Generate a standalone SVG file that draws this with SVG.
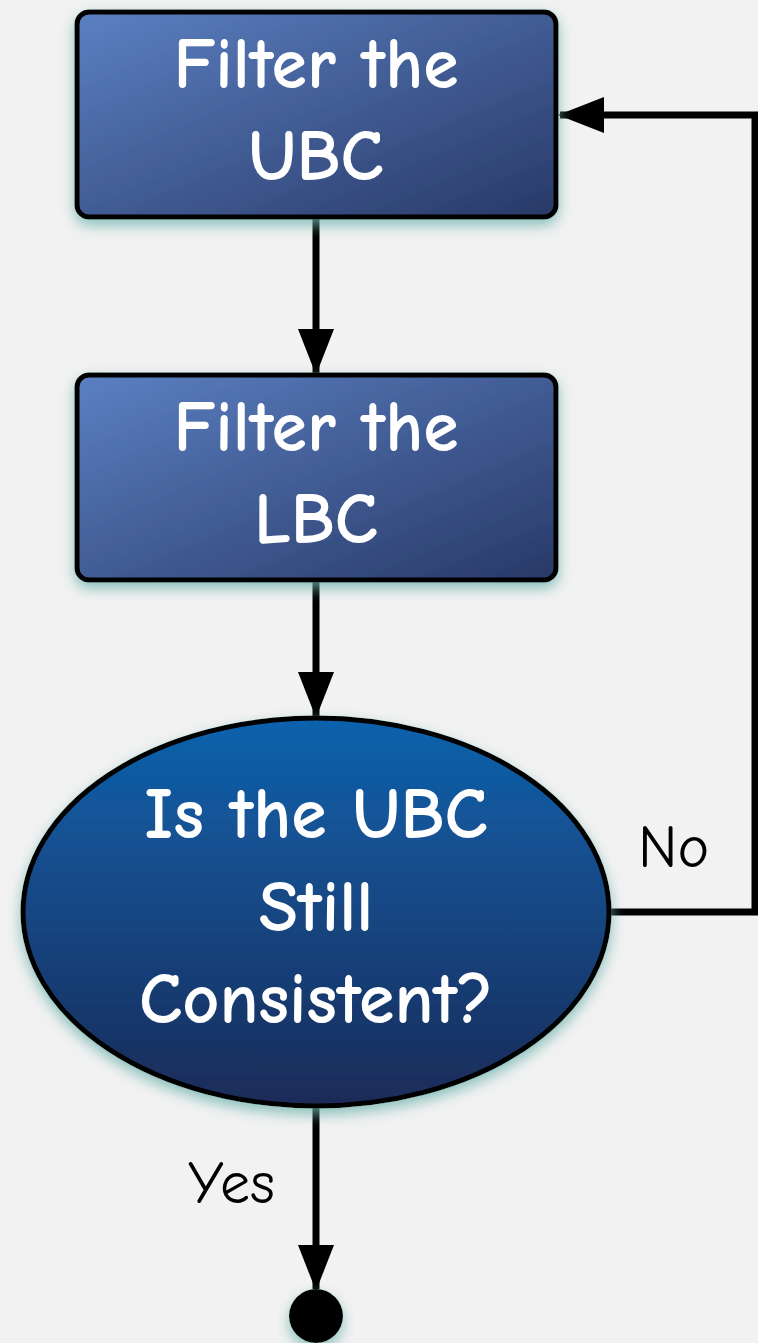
<svg xmlns="http://www.w3.org/2000/svg" width="758" height="1343" viewBox="0 0 758 1343">
<style>
.node-text{font-family:"Comic Neue","Noto Sans","DejaVu Sans",sans-serif;font-size:72px;font-weight:700;fill:#ffffff;text-anchor:middle}
.label{font-family:"Comic Neue","Noto Sans","DejaVu Sans",sans-serif;font-size:60px;fill:#000000}
.edge{fill:none;stroke:#000000;stroke-width:7}
.box{stroke:#000000;stroke-width:5}
</style>
<defs>
<linearGradient id="boxGrad" x1="0" y1="0" x2="1" y2="1">
<stop offset="0" stop-color="#5b80c2"/>
<stop offset="1" stop-color="#283967"/>
</linearGradient>
<linearGradient id="ellGrad" x1="0" y1="0" x2="0" y2="1">
<stop offset="0" stop-color="#0f62ad"/>
<stop offset="1" stop-color="#1b2b58"/>
</linearGradient>
<filter id="glow" x="-20%" y="-20%" width="140%" height="140%">
<feGaussianBlur in="SourceAlpha" stdDeviation="7"/>
<feOffset dx="0" dy="6" result="b"/>
<feFlood flood-color="#6fb3ad" flood-opacity="0.8"/>
<feComposite in2="b" operator="in"/>
<feMerge><feMergeNode/><feMergeNode in="SourceGraphic"/></feMerge>
</filter>
<marker id="arrow" markerUnits="userSpaceOnUse" markerWidth="46" markerHeight="36" refX="44" refY="18" orient="auto">
<path d="M0,0 L46,18 L0,36 Z" fill="#000000"/>
</marker>
</defs>
<rect width="758" height="1343" fill="#f2f2f2"/>
<g id="connectors">
<line class="edge" x1="316" y1="217" x2="316" y2="373" marker-end="url(#arrow)"/>
<line class="edge" x1="316" y1="580" x2="316" y2="716" marker-end="url(#arrow)"/>
<polyline class="edge" points="610,912 755,912 755,115 560,115" marker-end="url(#arrow)"/>
<line class="edge" x1="316" y1="1106" x2="316" y2="1289" marker-end="url(#arrow)"/>
<text class="label" x="638" y="867">No</text>
<text class="label" x="188" y="1203">Yes</text>
</g>
<g id="filter-ubc">
<rect class="box" x="77" y="12" width="479" height="205" rx="12" fill="url(#boxGrad)" filter="url(#glow)"/>
<text class="node-text" x="316" y="88">Filter the</text>
<text class="node-text" x="316" y="180">UBC</text>
</g>
<g id="filter-lbc">
<rect class="box" x="77" y="375" width="479" height="205" rx="12" fill="url(#boxGrad)" filter="url(#glow)"/>
<text class="node-text" x="316" y="451">Filter the</text>
<text class="node-text" x="316" y="543">LBC</text>
</g>
<g id="decision">
<ellipse class="box" cx="316" cy="912" rx="293" ry="194" fill="url(#ellGrad)" filter="url(#glow)"/>
<text class="node-text" x="316" y="838">Is the UBC</text>
<text class="node-text" x="316" y="931">Still</text>
<text class="node-text" x="316" y="1023">Consistent?</text>
</g>
<g id="end">
<circle cx="316" cy="1316" r="27" fill="#000000" filter="url(#glow)"/>
</g>
</svg>
